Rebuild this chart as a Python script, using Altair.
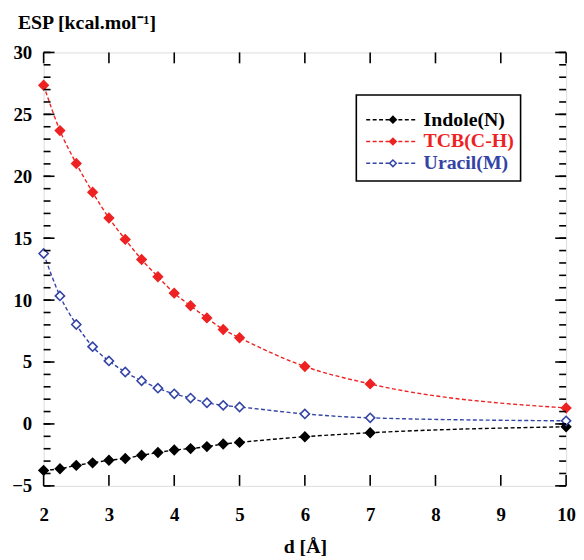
import altair as alt
import pandas as pd

# ---- data ----
d_values = [2, 2.25, 2.5, 2.75, 3, 3.25, 3.5, 3.75, 4, 4.25, 4.5, 4.75, 5, 6, 7, 10]
indole = [-3.75, -3.62, -3.35, -3.14, -2.93, -2.79, -2.53, -2.31, -2.10, -1.99, -1.83, -1.62, -1.49, -1.03, -0.71, -0.23]
tcb = [27.35, 23.69, 21.03, 18.71, 16.63, 14.90, 13.28, 11.89, 10.56, 9.54, 8.56, 7.63, 6.96, 4.64, 3.23, 1.29]
uracil = [13.76, 10.34, 8.03, 6.24, 5.09, 4.19, 3.49, 2.89, 2.43, 2.09, 1.71, 1.50, 1.37, 0.81, 0.49, 0.25]

series_names = ["Indole(N)", "TCB(C-H)", "Uracil(M)"]
series_colors = ["#000000", "#ee2222", "#3344a6"]
series_fills = ["#000000", "#ee2222", "#ffffff"]

x_ticks = [2, 3, 4, 5, 6, 7, 8, 9, 10]
y_major = [-5, 0, 5, 10, 15, 20, 25, 30]
y_minor = list(range(-5, 31))

W, H = 528, 438
FONT = "Liberation Serif"

rows = []
for name, vals in zip(series_names, [indole, tcb, uracil]):
    for d, v in zip(d_values, vals):
        rows.append({"d": d, "esp": v, "series": name})
df = pd.DataFrame(rows)

xscale = alt.Scale(domain=[2, 10], nice=False, zero=False)
yscale = alt.Scale(domain=[-5, 30], nice=False, zero=False)
stroke_scale = alt.Scale(domain=series_names, range=series_colors)
fill_scale = alt.Scale(domain=series_names, range=series_fills)

xaxis = alt.Axis(values=x_ticks, format="d", ticks=False, tickSize=0, domain=False, grid=False,
                 labelFlush=False, labelOverlap=False,
                 labelFont=FONT, labelFontWeight="bold", labelFontSize=19, labelColor="black",
                 labelPadding=20, title="d [Å]", titleFont=FONT, titleFontWeight="bold",
                 titleFontSize=20, titleColor="black", titlePadding=12)
yaxis = alt.Axis(values=y_major, format="d", ticks=False, tickSize=0, domain=False, grid=False,
                 labelFlush=False, labelOverlap=False,
                 labelFont=FONT, labelFontWeight="bold", labelFontSize=19, labelColor="black",
                 labelPadding=12, title=None)

lines = alt.Chart(df).mark_line(interpolate="monotone", strokeDash=[4, 2.5], strokeWidth=1.4).encode(
    x=alt.X("d:Q", scale=xscale, axis=xaxis),
    y=alt.Y("esp:Q", scale=yscale, axis=yaxis),
    stroke=alt.Stroke("series:N", scale=stroke_scale, legend=None),
    detail="series:N",
)

points = alt.Chart(df).mark_point(shape="diamond", size=85, strokeWidth=1.6, opacity=1, fillOpacity=1).encode(
    x=alt.X("d:Q", scale=xscale),
    y=alt.Y("esp:Q", scale=yscale),
    stroke=alt.Stroke("series:N", scale=stroke_scale, legend=None),
    fill=alt.Fill("series:N", scale=fill_scale, legend=None),
)

# ---- inward ticks on all four sides ----
xt = pd.DataFrame({"t": x_ticks})
ymaj = pd.DataFrame({"t": y_major})
ymin = pd.DataFrame({"t": y_minor})
tick_style = dict(color="black", strokeWidth=1.6)

bottom_ticks = alt.Chart(xt).mark_rule(**tick_style).encode(
    x=alt.X("t:Q", scale=xscale), y=alt.value(H), y2=alt.value(H - 11))
top_ticks = alt.Chart(xt).mark_rule(**tick_style).encode(
    x=alt.X("t:Q", scale=xscale), y=alt.value(0), y2=alt.value(11))
left_major = alt.Chart(ymaj).mark_rule(**tick_style).encode(
    y=alt.Y("t:Q", scale=yscale), x=alt.value(0), x2=alt.value(11))
left_minor = alt.Chart(ymin).mark_rule(**tick_style).encode(
    y=alt.Y("t:Q", scale=yscale), x=alt.value(0), x2=alt.value(7))
right_major = alt.Chart(ymaj).mark_rule(**tick_style).encode(
    y=alt.Y("t:Q", scale=yscale), x=alt.value(W), x2=alt.value(W - 11))
right_minor = alt.Chart(ymin).mark_rule(**tick_style).encode(
    y=alt.Y("t:Q", scale=yscale), x=alt.value(W), x2=alt.value(W - 7))

# ---- y title with superscript ----
ytitle = alt.Chart(pd.DataFrame({"s": ["ESP [kcal.mol⁻¹]"]})).mark_text(
    font=FONT, fontWeight="bold", fontSize=20, align="left", baseline="middle", color="black"
).encode(text="s:N", x=alt.value(-26), y=alt.value(-30))

# ---- legend ----
leg = pd.DataFrame({"series": series_names, "i": [0, 1, 2]})
legend_box = alt.Chart(pd.DataFrame({"a": [0]})).mark_rect(
    fill="white", stroke="black", strokeWidth=1.6
).encode(x=alt.value(316), x2=alt.value(482), y=alt.value(43), y2=alt.value(130))

leg_base = alt.Chart(leg).transform_calculate(ly="68 + 22 * datum.i")
leg_lines = leg_base.mark_rule(strokeDash=[4, 2.5], strokeWidth=1.4).encode(
    y=alt.Y("ly:Q", scale=None), x=alt.value(326), x2=alt.value(376),
    stroke=alt.Stroke("series:N", scale=stroke_scale, legend=None))
leg_points = leg_base.mark_point(shape="diamond", size=45, strokeWidth=1.5, opacity=1, fillOpacity=1).encode(
    y=alt.Y("ly:Q", scale=None), x=alt.value(353),
    stroke=alt.Stroke("series:N", scale=stroke_scale, legend=None),
    fill=alt.Fill("series:N", scale=fill_scale, legend=None))
leg_text = leg_base.mark_text(font=FONT, fontWeight="bold", fontSize=20, align="left", baseline="middle").encode(
    y=alt.Y("ly:Q", scale=None), x=alt.value(384), text="series:N",
    color=alt.Color("series:N", scale=alt.Scale(domain=series_names, range=series_colors), legend=None))

chart = alt.layer(
    lines, points, bottom_ticks, top_ticks, left_major, left_minor, right_major, right_minor,
    ytitle, legend_box, leg_lines, leg_points, leg_text
).properties(
    width=W, height=H,
    autosize=alt.AutoSizeParams(type="none"),
    padding={"left": 36, "top": 42, "right": 10, "bottom": 70},
).configure_view(stroke="black", strokeWidth=1.8).configure(background="white")

chart.save("out.html", embed_options={"renderer": "svg", "actions": False})
